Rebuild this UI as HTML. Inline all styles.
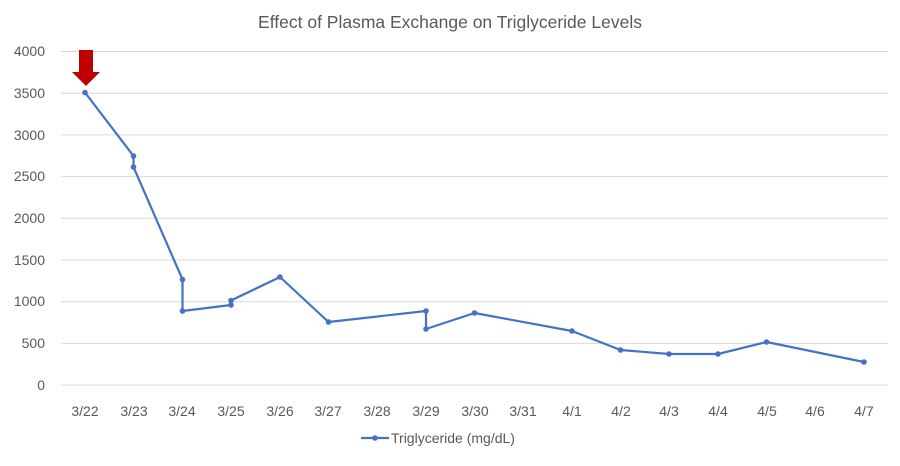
<!DOCTYPE html>
<html><head><style>
body{margin:0;background:#fff;}
svg text{font-family:"Liberation Sans",sans-serif;fill:#595959;}
</style></head><body>
<svg width="900" height="461" xmlns="http://www.w3.org/2000/svg">
<rect width="900" height="461" fill="#fff"/>
<text x="450" y="28" font-size="17.5" text-anchor="middle">Effect of Plasma Exchange on Triglyceride Levels</text>
<g stroke="#d9d9d9" stroke-width="1">
<line x1="61" x2="888" y1="51.5" y2="51.5"/>
<line x1="61" x2="888" y1="93.2" y2="93.2"/>
<line x1="61" x2="888" y1="134.9" y2="134.9"/>
<line x1="61" x2="888" y1="176.6" y2="176.6"/>
<line x1="61" x2="888" y1="218.3" y2="218.3"/>
<line x1="61" x2="888" y1="260" y2="260"/>
<line x1="61" x2="888" y1="301.7" y2="301.7"/>
<line x1="61" x2="888" y1="343.4" y2="343.4"/>
<line x1="61" x2="888" y1="385.1" y2="385.1"/>
</g>
<g font-size="14" text-anchor="end">
<text x="45" y="56">4000</text><text x="45" y="98">3500</text><text x="45" y="140">3000</text>
<text x="45" y="181">2500</text><text x="45" y="223">2000</text><text x="45" y="265">1500</text>
<text x="45" y="306">1000</text><text x="45" y="348">500</text><text x="45" y="390">0</text>
</g>
<g font-size="14" text-anchor="middle">
<text x="85" y="416">3/22</text><text x="134" y="416">3/23</text><text x="182" y="416">3/24</text>
<text x="231" y="416">3/25</text><text x="280" y="416">3/26</text><text x="328" y="416">3/27</text>
<text x="377" y="416">3/28</text><text x="426" y="416">3/29</text><text x="475" y="416">3/30</text>
<text x="523" y="416">3/31</text><text x="572" y="416">4/1</text><text x="621" y="416">4/2</text>
<text x="669" y="416">4/3</text><text x="718" y="416">4/4</text><text x="767" y="416">4/5</text>
<text x="815" y="416">4/6</text><text x="864" y="416">4/7</text>
</g>
<polyline fill="none" stroke="#4472c4" stroke-width="2.2" stroke-linejoin="round" points="85,92.5 133.5,156 133.5,167 182.5,279.5 182.5,311 231,305 231,300.5 280,277 328.5,322 426,311 426,329 474.5,313 572,331 620.5,350 669,354 718,354 766.5,342 864,362"/>
<g fill="#4472c4">
<circle cx="85" cy="92.5" r="2.8"/><circle cx="133.5" cy="156" r="2.8"/><circle cx="133.5" cy="167" r="2.8"/>
<circle cx="182.5" cy="279.5" r="2.8"/><circle cx="182.5" cy="311" r="2.8"/><circle cx="231" cy="305" r="2.8"/>
<circle cx="231" cy="300.5" r="2.8"/><circle cx="280" cy="277" r="2.8"/><circle cx="328.5" cy="322" r="2.8"/>
<circle cx="426" cy="311" r="2.8"/><circle cx="426" cy="329" r="2.8"/><circle cx="474.5" cy="313" r="2.8"/>
<circle cx="572" cy="331" r="2.8"/><circle cx="620.5" cy="350" r="2.8"/><circle cx="669" cy="354" r="2.8"/>
<circle cx="718" cy="354" r="2.8"/><circle cx="766.5" cy="342" r="2.8"/><circle cx="864" cy="362" r="2.8"/>
</g>
<polygon fill="#c00000" points="79,50 93,50 93,72 100,72 86,86 72,72 79,72"/>
<line x1="361" x2="389" y1="438" y2="438" stroke="#4472c4" stroke-width="2.2"/>
<circle cx="375" cy="438" r="2.8" fill="#4472c4"/>
<text x="391" y="443" font-size="14">Triglyceride (mg/dL)</text>
</svg>
</body></html>
